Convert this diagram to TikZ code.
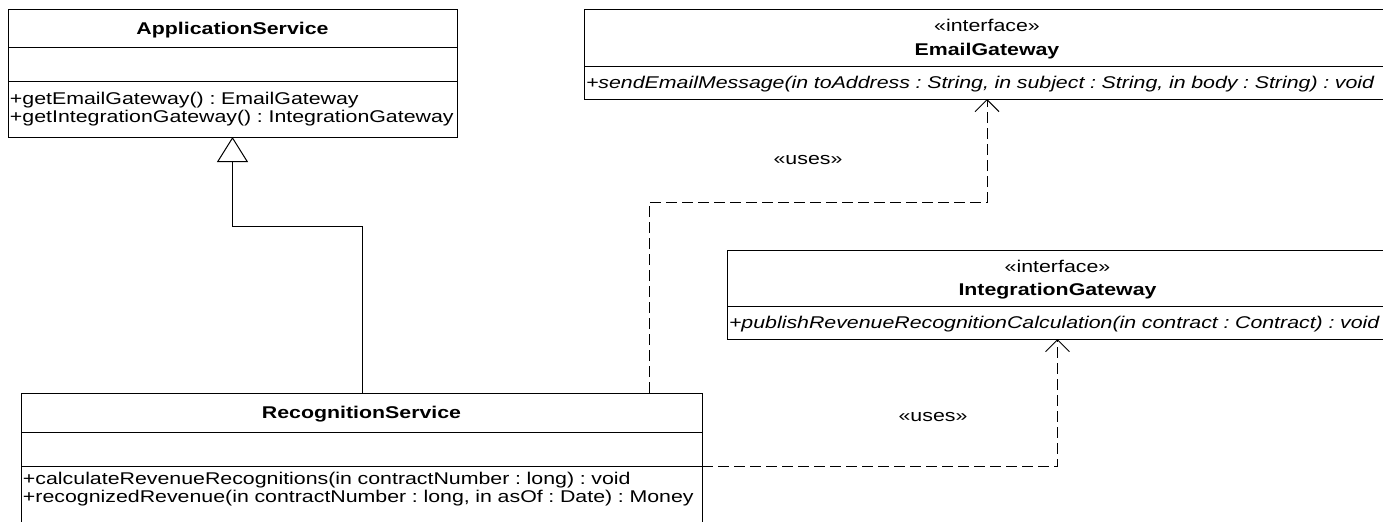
\documentclass[tikz,border=0pt]{standalone}
\usepackage{fontspec}
\setmainfont{Liberation Sans}[FakeStretch=1.255]
\frenchspacing
\usetikzlibrary{arrows.meta,positioning}

\begin{document}
\begin{tikzpicture}[x=0.5pt, y=-0.5pt, line width=0.5pt,
    compart/.style={draw, outer sep=0pt, inner xsep=1pt, inner ysep=0pt, anchor=north west, font=\fontsize{8.5}{9.3}\selectfont},
    classhead/.style={compart, align=center, text depth=0pt},
    opslist/.style={compart, align=left},
    inherits/.style={-{Triangle[open, length=12.5pt, width=15.5pt]}},
    usesdep/.style={dash pattern=on 5.5pt off 2.5pt, -{Straight Barb[length=6pt, width=12pt]}},
    tag/.style={font=\fontsize{8.5}{9.3}\selectfont, inner sep=0pt}]
  \useasboundingbox (0,0) rectangle (1383,521);
  \clip (0,0) rectangle (1383,521);
  \node[classhead, minimum width=224.5pt, minimum height=19pt] (a1) at (8,9) {\textbf{ApplicationService}};
  \node[compart, minimum width=224.5pt, minimum height=17pt, below=0pt of a1] (a2) {};
  \node[opslist, text width=222.5pt, minimum height=28pt, below=0pt of a2] (a3) {+getEmailGateway() : EmailGateway\\+getIntegrationGateway() : IntegrationGateway};
  \node[classhead, minimum width=403pt, minimum height=28.5pt] (e1) at (584,9) {«interface»\\[2.4pt]\textbf{EmailGateway}};
  \node[opslist, text width=401pt, minimum height=16.5pt, text depth=0pt, below=0pt of e1] (e2) {\textit{+sendEmailMessage(in toAddress : String, in subject : String, in body : String) : void}};
  \node[classhead, minimum width=330.5pt, minimum height=28pt] (i1) at (727,250) {«interface»\\[2.4pt]\textbf{IntegrationGateway}};
  \node[opslist, text width=328.5pt, minimum height=16.5pt, text depth=0pt, below=0pt of i1] (i2) {\textit{+publishRevenueRecognitionCalculation(in contract : Contract) : void}};
  \node[classhead, minimum width=340.5pt, minimum height=19.5pt] (r1) at (21,393) {\textbf{RecognitionService}};
  \node[compart, minimum width=340.5pt, minimum height=17pt, below=0pt of r1] (r2) {};
  \node[opslist, text width=338.5pt, minimum height=33.3pt, below=0pt of r2] (r3) {+calculateRevenueRecognitions(in contractNumber : long) : void\\+recognizedRevenue(in contractNumber : long, in asOf : Date) : Money\\\strut};
  \node[tag] (u1) at (808,160) {«uses»};
  \node[tag] (u2) at (933,417) {«uses»};
  \coordinate (g) at (362,226);
  \coordinate (d) at (649,202);
  \draw[inherits] (g |- r1.north) -- (g) -| (a3.south);
  \draw[usesdep] (d |- r1.north) -- (d) -| (e2.south);
  \draw[usesdep] (r3.north east) -| (i2.south);
\end{tikzpicture}
\end{document}
